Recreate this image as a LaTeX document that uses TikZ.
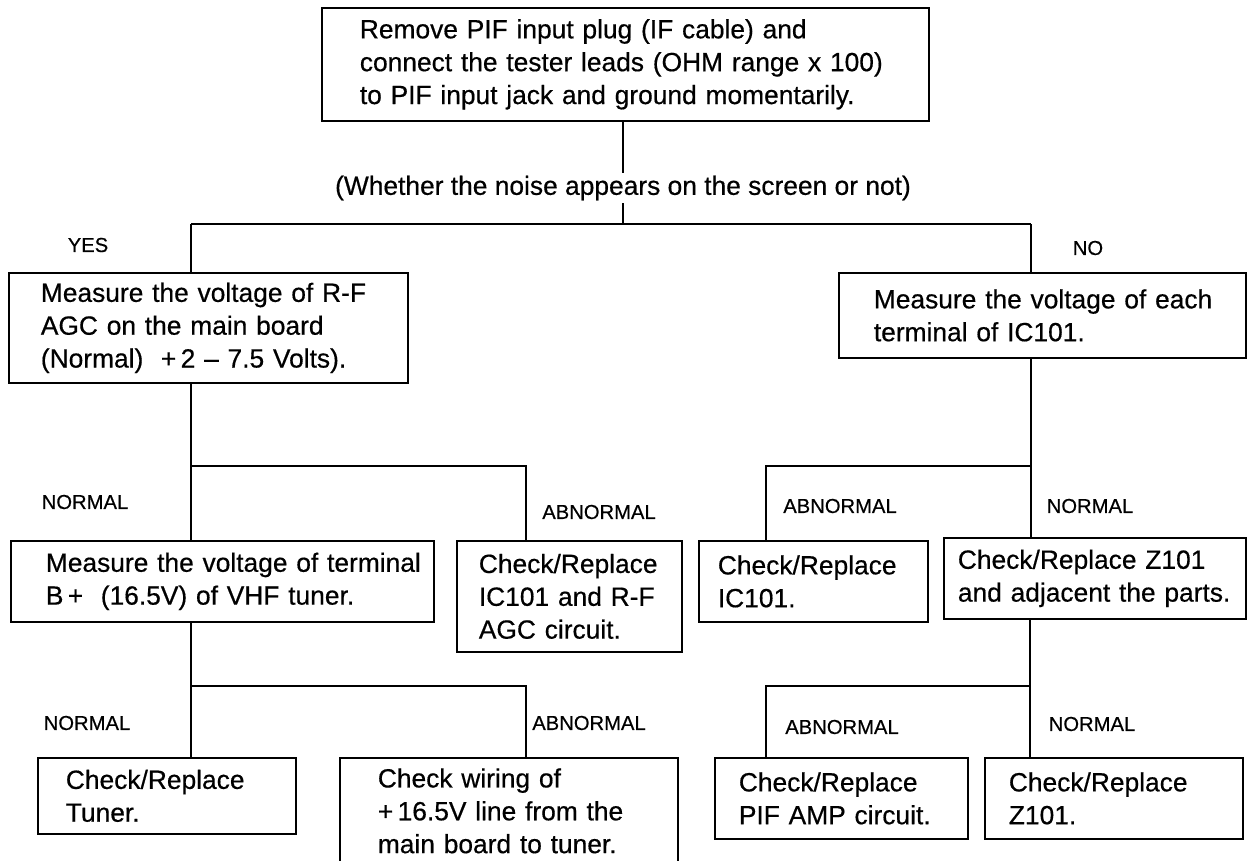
\documentclass[tikz,border=0pt]{standalone}
\usepackage{fontspec}
\setmainfont{Liberation Sans}[FakeBold=0.5]
\usetikzlibrary{positioning}
\newcommand{\boxfont}{\fontsize{15}{18.7}\selectfont}
\newcommand{\tagfont}{\fontsize{11.5}{13}\selectfont}
\tikzstyle{stepbox} = [rectangle, draw=black, line width=1pt, anchor=north west, align=left, inner xsep=0pt, inner ysep=0pt, font=\boxfont]
\tikzstyle{tag} = [font=\tagfont, inner sep=0pt]
\tikzstyle{branch} = [line width=0.75pt]
\tikzset{lpad/.style={execute at begin node={\leftskip=#1}}}

\begin{document}
\begin{tikzpicture}[x=0.02cm, y=-0.02cm]
    \useasboundingbox (0,0) rectangle (1248,860);
    % Start
    \node (top) [stepbox, text width=12.14cm, minimum height=2.26cm, lpad=0.76cm] at (321,7) {Remove PIF input plug (IF cable) and\\connect the tester leads (OHM range x 100)\\to PIF input jack and ground momentarily.};
    \node (noise) [font=\boxfont, inner xsep=0pt, inner ysep=1.5pt] at (623,188) {(Whether the noise appears on the screen or not)};
    \coordinate (yes) at (191,224);
    \coordinate (no) at (1031,224);

    % First checks
    \node (rfagc) [stepbox, text width=7.98cm, minimum height=2.2cm, lpad=0.64cm] at (8,272) {Measure the voltage of R-F\\AGC on the main board\\(Normal) \ +\,2 -- 7.5 Volts).};
    \node (eachic) [stepbox, text width=8.14cm, minimum height=1.7cm, lpad=0.7cm] at (838,272) {Measure the voltage of each\\terminal of IC101.};
    \node (lblyes) [tag] at (88,245) {YES};
    \node (lblno) [tag] at (1088,248) {NO};

    % Second level
    \coordinate (ln) at (191,466);
    \coordinate (la) at (526,466);
    \coordinate (ra) at (766,466);
    \coordinate (rn) at (1031,466);
    \node (vhf) [stepbox, text width=8.46cm, minimum height=1.62cm, lpad=0.7cm] at (10,540) {Measure the voltage of terminal\\B\,+ \ (16.5V) of VHF tuner.};
    \node (agc) [stepbox, text width=4.5cm, minimum height=2.22cm, lpad=0.44cm] at (456,540) {Check/Replace\\IC101 and R-F\\AGC circuit.};
    \node (repic) [stepbox, text width=4.58cm, minimum height=1.62cm, lpad=0.38cm] at (698,540) {Check/Replace\\IC101.};
    \node (z101) [stepbox, text width=6.04cm, minimum height=1.62cm, lpad=0.28cm] at (943,537) {Check/Replace Z101\\and adjacent the parts.};
    \node (lbln1) [tag] at (85,502) {NORMAL};
    \node (lbla1) [tag] at (599,512) {ABNORMAL};
    \node (lbla2) [tag] at (840,506) {ABNORMAL};
    \node (lbln2) [tag] at (1090,506) {NORMAL};

    % Third level
    \coordinate (ln2) at (191,686);
    \coordinate (la2) at (526,686);
    \coordinate (ra2) at (766,686);
    \coordinate (rn2) at (1030,686);
    \node (tuner) [stepbox, text width=5.16cm, minimum height=1.52cm, lpad=0.56cm] at (37,757) {Check/Replace\\Tuner.};
    \node (wiring) [stepbox, text width=6.76cm, minimum height=2.12cm, lpad=0.76cm] at (339,757) {Check wiring of\\+\,16.5V line from the\\main board to tuner.};
    \node (pifamp) [stepbox, text width=5.06cm, minimum height=1.62cm, lpad=0.48cm] at (714,757) {Check/Replace\\PIF AMP circuit.};
    \node (repz) [stepbox, text width=5.16cm, minimum height=1.62cm, lpad=0.48cm] at (984,757) {Check/Replace\\Z101.};
    \node (lbln3) [tag] at (87,723) {NORMAL};
    \node (lbla3) [tag] at (589,723) {ABNORMAL};
    \node (lbla4) [tag] at (842,727) {ABNORMAL};
    \node (lbln4) [tag] at (1092,724) {NORMAL};

    % Lines
    \draw [branch] (noise.north |- top.south) -- (noise.north);
    \draw [branch] (noise.south) -- (noise.south |- yes);
    \draw [branch] (yes) -- (no);
    \draw [branch] (yes) -- (yes |- rfagc.north);
    \draw [branch] (no) -- (no |- eachic.north);
    \draw [branch] (rfagc.south -| ln) -- (vhf.north -| ln);
    \draw [branch] (ln) -- (la) -- (la |- agc.north);
    \draw [branch] (eachic.south -| rn) -- (z101.north -| rn);
    \draw [branch] (rn) -- (ra) -- (ra |- repic.north);
    \draw [branch] (vhf.south -| ln2) -- (tuner.north -| ln2);
    \draw [branch] (ln2) -- (la2) -- (la2 |- wiring.north);
    \draw [branch] (z101.south -| rn2) -- (repz.north -| rn2);
    \draw [branch] (rn2) -- (ra2) -- (ra2 |- pifamp.north);
\end{tikzpicture}
\end{document}
